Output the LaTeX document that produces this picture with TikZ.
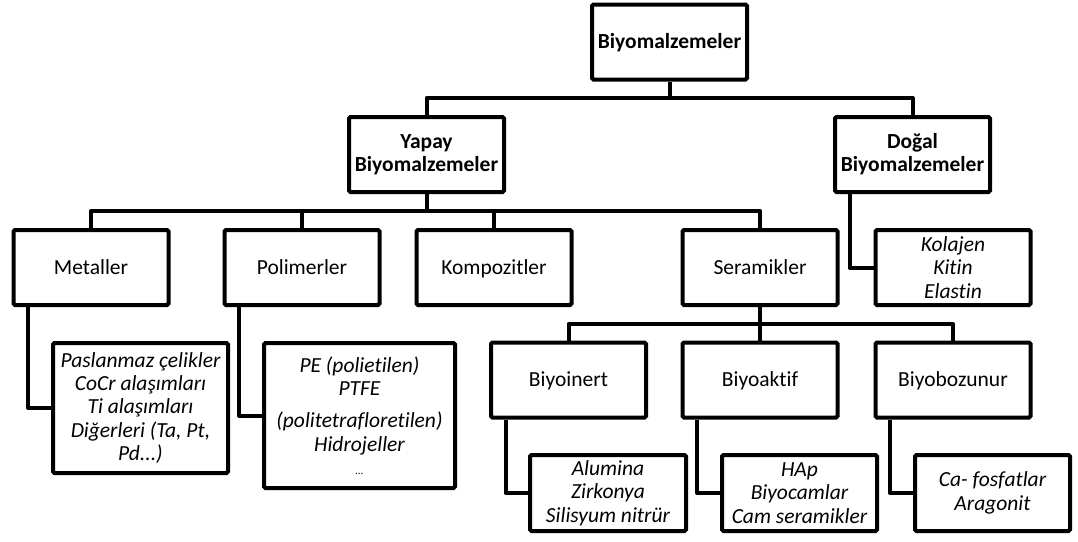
\documentclass[tikz,border=0pt]{standalone}
\usepackage{fontspec}
\setmainfont{Carlito}[Ligatures=NoCommon]
\usetikzlibrary{positioning}
\tikzset{
x=1pt, y=-1pt,
frame/.style={draw,line width=4pt,rounded corners=1.5pt,align=center,inner sep=0pt,
              minimum width=155pt,minimum height=75pt},
box/.style={frame,font=\fontsize{21.5}{23}\selectfont,text height=13.8pt,text depth=0pt},
headbox/.style={frame,font=\fontsize{21.5}{23}\selectfont\bfseries},
listbox/.style={frame,font=\fontsize{21.5}{23.3}\selectfont\itshape},
link/.style={line width=4pt,line join=round}
}

\begin{document}
\begin{tikzpicture}
\useasboundingbox (0,0) rectangle (1078,541);

\node[headbox,text height=13.8pt,text depth=0pt] (root) at (669.5,42) {Biyomalzemeler};
\node[headbox] (yapay) at (426.5,154.5) {Yapay\\Biyomalzemeler};
\node[headbox] (dogal) at (912.5,154.5) {Doğal\\Biyomalzemeler};

\node[box] (metaller)    at (91,267.5)  {Metaller};
\node[box] (polimerler)  at (302,267.5) {Polimerler};
\node[box] (kompozitler) at (494,267.5) {Kompozitler};
\node[box] (seramikler)  at (760,267.5) {Seramikler};
\node[listbox] (dogallist) at (953,267.5) {Kolajen\\Kitin\\Elastin};

\node[box] (biyoinert)   at (568.5,380) {Biyoinert};
\node[box] (biyoaktif)   at (760,380)   {Biyoaktif};
\node[box] (biyobozunur) at (953,380)   {Biyobozunur};

% leaf lists
\node[listbox,minimum width=175pt,minimum height=130pt] (metallist) at (140.5,408)
  {Paslanmaz çelikler\\CoCr alaşımları\\Ti alaşımları\\Diğerleri (Ta, Pt,\\Pd...)};
\node[listbox,minimum width=191pt,minimum height=145pt] (polilist) at (359.5,415.5)
  {PE (polietilen)\\PTFE\\[9pt](politetrafloretilen)\\Hidrojeller\\{\fontsize{11}{12}\selectfont ...}};
\node[listbox,minimum width=156pt,minimum height=76pt] (inertlist) at (608,493)
  {Alumina\\Zirkonya\\Silisyum nitrür};
\node[listbox,minimum height=76pt] (aktiflist) at (799.5,493)
  {HAp\\Biyocamlar\\Cam seramikler};
\node[listbox,minimum height=76pt] (bozunurlist) at (992.5,493)
  {Ca- fosfatlar\\Aragonit};

% tree
\foreach \c in {yapay,dogal}
  \draw[link] (root.south) -- ++(0,16.5) -| (\c.north);
\foreach \c in {metaller,polimerler,kompozitler,seramikler}
  \draw[link] (yapay.south) -- ++(0,17) -| (\c.north);
\foreach \c in {biyoinert,biyoaktif,biyobozunur}
  \draw[link] (seramikler.south) -- ++(0,17) -| (\c.north);

% elbows to the lists
\draw[link] ([xshift=16.5pt]dogal.south west)       |- (dogallist.west);
\draw[link] ([xshift=16.5pt]metaller.south west)    |- (metallist.west);
\draw[link] ([xshift=16.5pt]polimerler.south west)  |- (polilist.west);
\draw[link] ([xshift=16.5pt]biyoinert.south west)   |- (inertlist.west);
\draw[link] ([xshift=16.5pt]biyoaktif.south west)   |- (aktiflist.west);
\draw[link] ([xshift=16.5pt]biyobozunur.south west) |- (bozunurlist.west);
\end{tikzpicture}
\end{document}
